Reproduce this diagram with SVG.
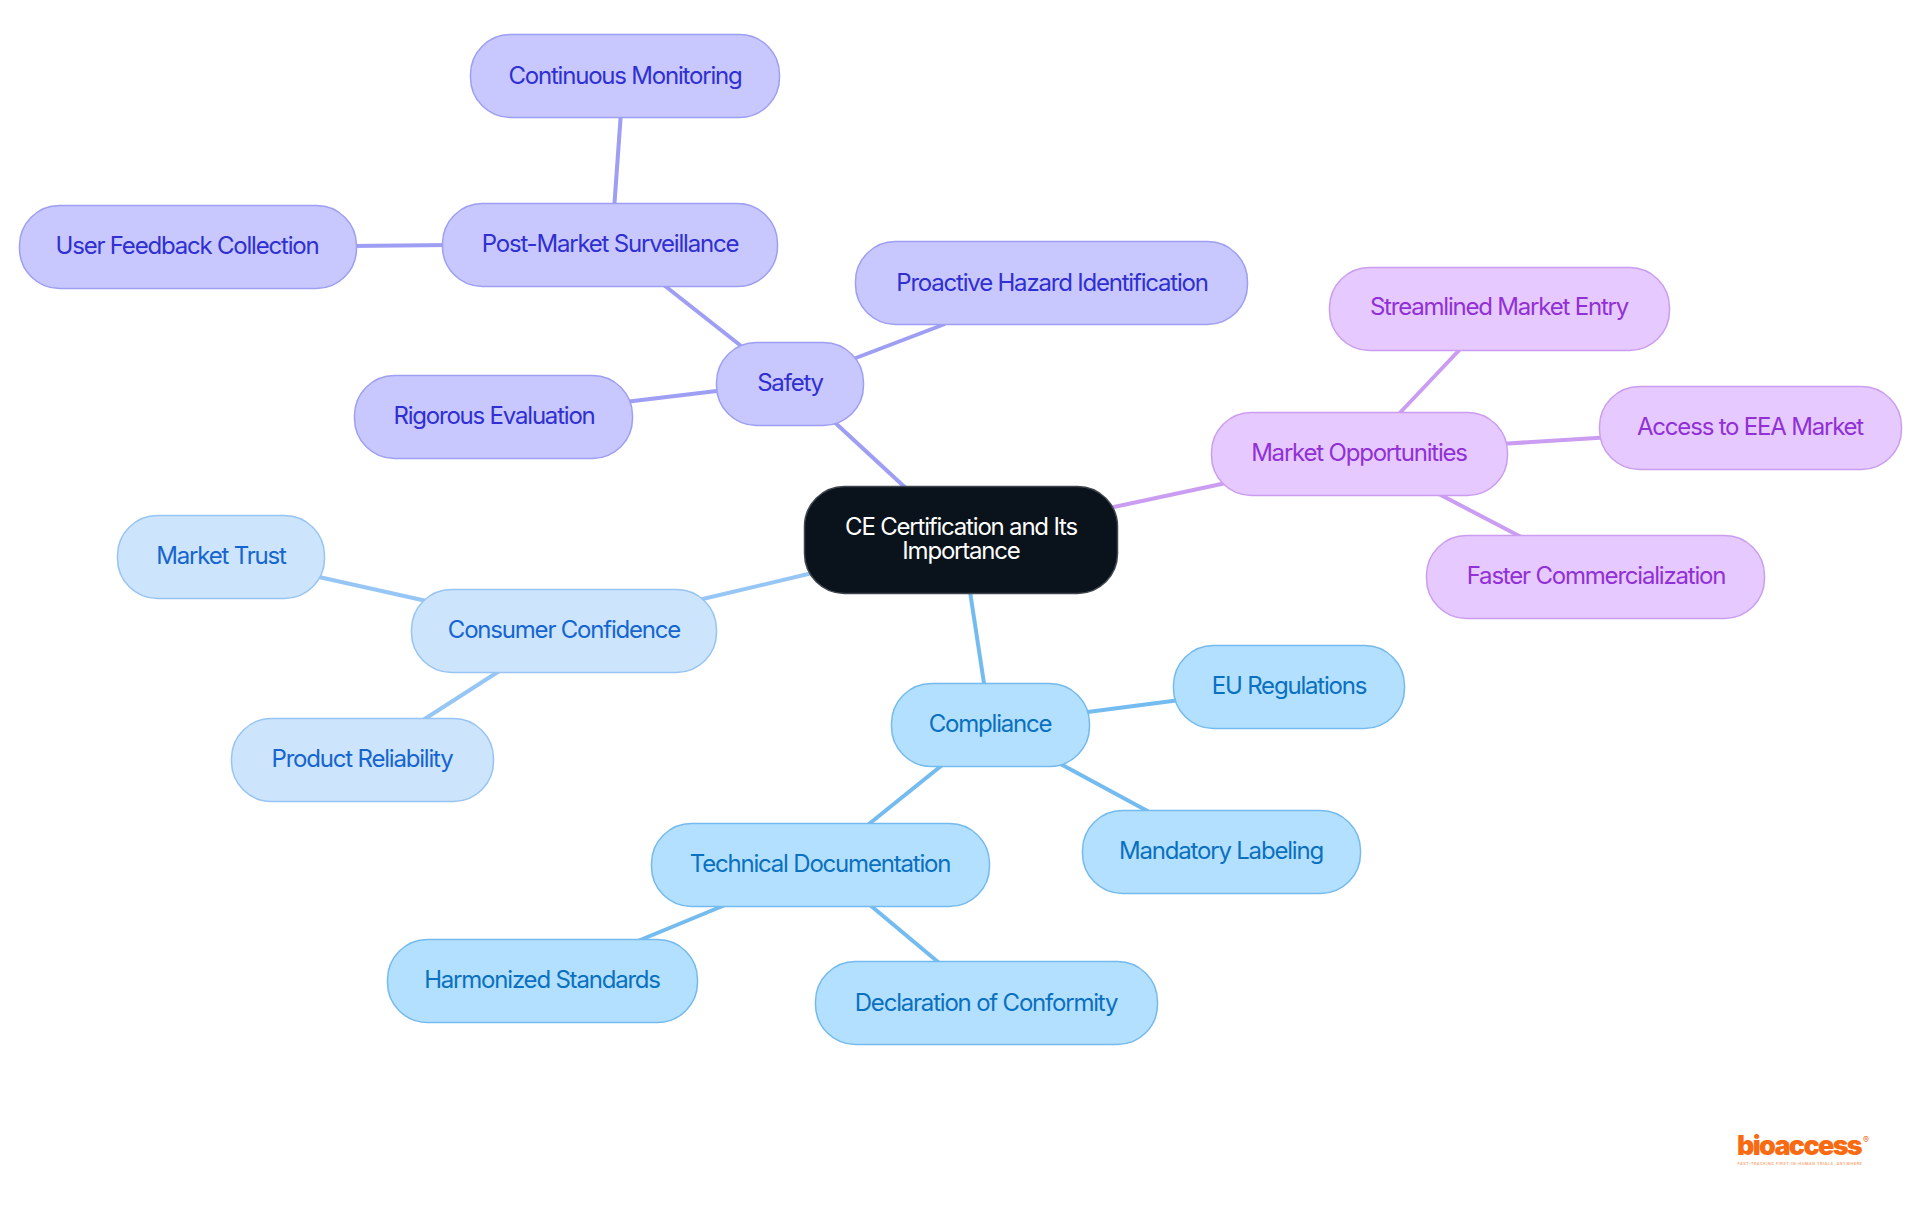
<svg xmlns="http://www.w3.org/2000/svg" width="1920" height="1215" viewBox="0 0 1920 1215">
<style>
text{font-family:Inter,"Noto Sans","Liberation Sans",sans-serif;font-size:24px;text-anchor:middle;dominant-baseline:central;letter-spacing:-1.2px}
rect{stroke-width:1.5}
line{stroke-width:4;fill:none}
.s rect{fill:#c8c8ff;stroke:#9e9ef2}.s text{fill:#2f2fd2}
.m rect{fill:#e6c9ff;stroke:#cb9df0}.m text{fill:#9130d6}
.c rect{fill:#cde4fd;stroke:#97c4f2}.c text{fill:#1565d0}
.b rect{fill:#b3e0ff;stroke:#74baee}.b text{fill:#0a70c0}
.ls{stroke:#9e9ef5}.lm{stroke:#cb9df2}.lc{stroke:#96c6f5}.lb{stroke:#74bcf0}
.logo{fill:#f96b13}
</style>
<rect width="1920" height="1215" fill="#fff" style="stroke:none"/>
<g id="connectors">
<line class="ls" x1="910" y1="492" x2="830" y2="418"/>
<line class="ls" x1="725" y1="390" x2="625" y2="402"/>
<line class="ls" x1="840" y1="364" x2="945" y2="324"/>
<line class="ls" x1="750" y1="353" x2="660" y2="282"/>
<line class="ls" x1="450" y1="245" x2="350" y2="246"/>
<line class="ls" x1="614" y1="210" x2="621" y2="112"/>
<line class="lm" x1="1100" y1="510" x2="1240" y2="480"/>
<line class="lm" x1="1395" y1="418" x2="1465" y2="344"/>
<line class="lm" x1="1500" y1="444" x2="1612" y2="437"/>
<line class="lm" x1="1435" y1="492" x2="1525" y2="539"/>
<line class="lc" x1="825" y1="570" x2="690" y2="602"/>
<line class="lc" x1="440" y1="604" x2="310" y2="575"/>
<line class="lc" x1="504" y1="668" x2="420" y2="722"/>
<line class="lb" x1="969" y1="585" x2="985" y2="690"/>
<line class="lb" x1="1080" y1="713" x2="1180" y2="700"/>
<line class="lb" x1="1055" y1="761" x2="1153" y2="814"/>
<line class="lb" x1="946" y1="762" x2="864" y2="828"/>
<line class="lb" x1="730" y1="903" x2="633" y2="943"/>
<line class="lb" x1="864" y1="900" x2="944" y2="967"/>
</g>
<g id="root"><rect x="804.500" y="486.500" width="313" height="107" rx="40" fill="#0a121b" stroke="#40464d"/><text x="961" y="526" fill="#fff">CE Certification and Its<tspan x="961" dy="24">Importance</tspan></text></g>
<g id="safety" class="s"><rect x="716.500" y="342.500" width="147" height="83" rx="40"/><text x="790" y="382">Safety</text></g>
<g id="post-market" class="s"><rect x="442.500" y="203.500" width="335" height="83" rx="40"/><text x="610" y="243">Post-Market Surveillance</text></g>
<g id="continuous" class="s"><rect x="470.500" y="34.500" width="309" height="83" rx="40"/><text x="625" y="75">Continuous Monitoring</text></g>
<g id="feedback" class="s"><rect x="19.500" y="205.500" width="337" height="83" rx="40"/><text x="187" y="245">User Feedback Collection</text></g>
<g id="hazard" class="s"><rect x="855.500" y="241.500" width="392" height="83" rx="40"/><text x="1052" y="282">Proactive Hazard Identification</text></g>
<g id="rigorous" class="s"><rect x="354.500" y="375.500" width="278" height="83" rx="40"/><text x="494" y="415">Rigorous Evaluation</text></g>
<g id="market" class="m"><rect x="1211.500" y="412.500" width="296" height="83" rx="40"/><text x="1359" y="452">Market Opportunities</text></g>
<g id="streamlined" class="m"><rect x="1329.500" y="267.500" width="340" height="83" rx="40"/><text x="1499" y="306">Streamlined Market Entry</text></g>
<g id="eea" class="m"><rect x="1599.500" y="386.500" width="302" height="83" rx="40"/><text x="1750" y="426">Access to EEA Market</text></g>
<g id="faster" class="m"><rect x="1426.500" y="535.500" width="338" height="83" rx="40"/><text x="1596" y="575">Faster Commercialization</text></g>
<g id="consumer" class="c"><rect x="411.500" y="589.500" width="305" height="83" rx="40"/><text x="564" y="629">Consumer Confidence</text></g>
<g id="trust" class="c"><rect x="117.500" y="515.500" width="207" height="83" rx="40"/><text x="221" y="555">Market Trust</text></g>
<g id="reliability" class="c"><rect x="231.500" y="718.500" width="262" height="83" rx="40"/><text x="362" y="758">Product Reliability</text></g>
<g id="compliance" class="b"><rect x="891.500" y="683.500" width="198" height="83" rx="40"/><text x="990" y="723">Compliance</text></g>
<g id="eu" class="b"><rect x="1173.500" y="645.500" width="231" height="83" rx="40"/><text x="1289" y="685">EU Regulations</text></g>
<g id="labeling" class="b"><rect x="1082.500" y="810.500" width="278" height="83" rx="40"/><text x="1221" y="850">Mandatory Labeling</text></g>
<g id="technical" class="b"><rect x="651.500" y="823.500" width="338" height="83" rx="40"/><text x="820" y="863">Technical Documentation</text></g>
<g id="harmonized" class="b"><rect x="387.500" y="939.500" width="310" height="83" rx="40"/><text x="542" y="979">Harmonized Standards</text></g>
<g id="declaration" class="b"><rect x="815.500" y="961.500" width="342" height="83" rx="40"/><text x="986" y="1002">Declaration of Conformity</text></g>
<g id="logo"><text class="logo" x="1799" y="1155" style="font-size:27px;font-weight:900;dominant-baseline:alphabetic;letter-spacing:-1.7px">bioaccess</text><text class="logo" x="1866" y="1139" style="font-size:9px;letter-spacing:0">®</text><text x="1800" y="1163" style="font-size:3.700px;font-weight:600;fill:#f9a470;letter-spacing:.55px">FAST-TRACKING FIRST-IN-HUMAN TRIALS, ANYWHERE</text></g>
</svg>
